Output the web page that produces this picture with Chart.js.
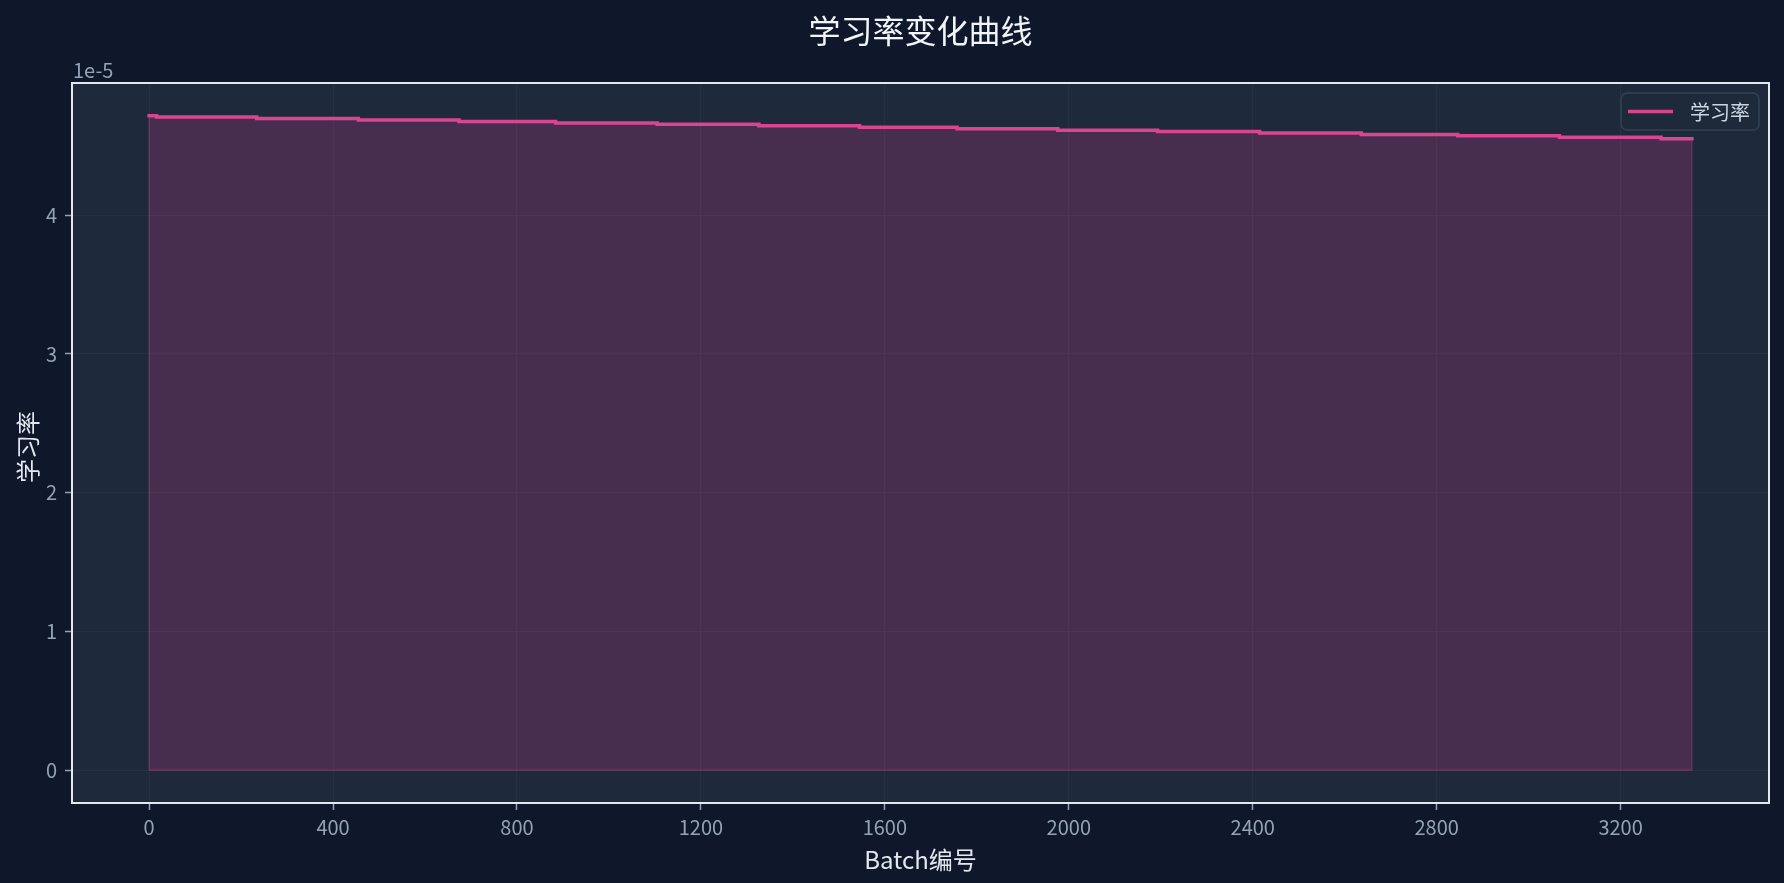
<!DOCTYPE html>
<html>
<head>
<meta charset="utf-8">
<script src="https://cdn.jsdelivr.net/npm/chart.js@4.4.1/dist/chart.umd.min.js"></script>
<style>
  html, body { margin: 0; padding: 0; background: #0f172a; }
  canvas { display: block; }
</style>
</head>
<body>
<canvas id="c" width="1784" height="883"></canvas>
<script>
// ---- Data ----
const chartTitle = '学习率变化曲线';
const xAxisTitle = 'Batch编号';
const yAxisTitle = '学习率';
const seriesLabel = '学习率';
const offsetText = '1e-5';
// batch index where each learning-rate level begins
const stepStartBatches = [0, 16, 234, 455, 674, 884, 1105, 1326, 1545, 1757, 1976, 2193, 2415, 2636, 2846, 3067, 3288];
// learning-rate level for each step
const learningRates = [4.717e-5, 4.707e-5, 4.697e-5, 4.686e-5, 4.676e-5, 4.665e-5, 4.655e-5, 4.645e-5, 4.634e-5,
                       4.624e-5, 4.613e-5, 4.603e-5, 4.593e-5, 4.582e-5, 4.572e-5, 4.561e-5, 4.551e-5];
const lastBatch = 3355;
const xTickValues = [0, 400, 800, 1200, 1600, 2000, 2400, 2800, 3200];
const yTickValues = [0, 1e-5, 2e-5, 3e-5, 4e-5];

// ---- Build points from the arrays ----
const points = stepStartBatches.map((b, i) => ({ x: b, y: learningRates[i] }));
points.push({ x: lastBatch, y: learningRates[learningRates.length - 1] });

const xFirst = stepStartBatches[0];
const xSpan = lastBatch - xFirst;
const yMaxData = Math.max(...learningRates);
const FONT = '"Noto Sans CJK SC", "Noto Sans", sans-serif';

const decor = {
  id: 'decor',
  beforeDraw(chart) {
    const { ctx, chartArea: a } = chart;
    ctx.save();
    ctx.fillStyle = '#0f172a';
    ctx.fillRect(0, 0, chart.width, chart.height);
    ctx.fillStyle = '#1e293b';
    ctx.fillRect(a.left, a.top, a.right - a.left, a.bottom - a.top);
    ctx.restore();
  },
  beforeDatasetsDraw(chart) {
    // faint edge of the filled area (left, bottom, right)
    const { ctx } = chart;
    const xs = chart.scales.x, ys = chart.scales.y;
    const x0 = xs.getPixelForValue(xFirst), x1 = xs.getPixelForValue(lastBatch);
    const y0 = ys.getPixelForValue(0);
    const yl = ys.getPixelForValue(learningRates[0]);
    const yr = ys.getPixelForValue(learningRates[learningRates.length - 1]);
    ctx.save();
    ctx.strokeStyle = 'rgba(236,72,153,0.3)';
    ctx.lineWidth = 1.3;
    ctx.beginPath();
    ctx.moveTo(x0, yl); ctx.lineTo(x0, y0); ctx.lineTo(x1, y0); ctx.lineTo(x1, yr);
    ctx.stroke();
    ctx.restore();
  },
  afterDraw(chart) {
    const { ctx, chartArea: a } = chart;
    ctx.save();
    // frame
    ctx.strokeStyle = '#e2e8f0';
    ctx.lineWidth = 2;
    ctx.strokeRect(a.left, a.top, a.right - a.left, a.bottom - a.top);

    const cx = (a.left + a.right) / 2;
    const cy = (a.top + a.bottom) / 2;
    // title
    ctx.fillStyle = '#f1f5f9';
    ctx.font = '32px ' + FONT;
    ctx.textAlign = 'center';
    ctx.textBaseline = 'middle';
    ctx.fillText(chartTitle, cx, 31);
    // x title
    ctx.fillStyle = '#e2e8f0';
    ctx.font = '24px ' + FONT;
    ctx.fillText(xAxisTitle, cx, 860);
    // y title
    ctx.save();
    ctx.translate(28, cy + 4);
    ctx.rotate(-Math.PI / 2);
    ctx.fillText(yAxisTitle, 0, 0);
    ctx.restore();
    // offset text
    ctx.fillStyle = '#94a3b8';
    ctx.font = '20px ' + FONT;
    ctx.textAlign = 'left';
    ctx.fillText(offsetText, a.left + 1, 70);

    // legend
    const lx = a.right - 148, ly = a.top + 10, lw = 138, lh = 37;
    ctx.beginPath();
    ctx.roundRect(lx, ly, lw, lh, 6);
    ctx.fillStyle = 'rgba(30,41,59,0.85)';
    ctx.fill();
    ctx.strokeStyle = '#334155';
    ctx.lineWidth = 1.5;
    ctx.stroke();
    const ds = chart.data.datasets[0];
    ctx.strokeStyle = ds.borderColor;
    ctx.lineWidth = 3.5;
    ctx.beginPath();
    ctx.moveTo(lx + 7, ly + lh / 2);
    ctx.lineTo(lx + 52, ly + lh / 2);
    ctx.stroke();
    ctx.fillStyle = '#cbd5e1';
    ctx.font = '20px ' + FONT;
    ctx.textAlign = 'left';
    ctx.textBaseline = 'middle';
    ctx.fillText(ds.label, lx + 69, ly + lh / 2 + 1);
    ctx.restore();
  }
};

function build() {
  new Chart(document.getElementById('c'), {
    type: 'line',
    data: {
      datasets: [{
        label: seriesLabel,
        data: points,
        stepped: true,
        borderColor: 'rgba(236,72,153,0.9)',
        backgroundColor: 'rgba(236,72,153,0.2)',
        borderWidth: 3.5,
        borderCapStyle: 'square',
        pointRadius: 0,
        fill: 'origin',
        tension: 0
      }]
    },
    options: {
      responsive: false,
      devicePixelRatio: 1,
      animation: false,
      layout: { padding: { left: 0, right: 15, top: 83, bottom: 0 } },
      plugins: { legend: { display: false }, title: { display: false }, tooltip: { enabled: false } },
      scales: {
        x: {
          type: 'linear',
          min: xFirst - 0.05 * xSpan,
          max: lastBatch + 0.05 * xSpan,
          afterFit(s) { s.height = 80; },
          afterBuildTicks(s) { s.ticks = xTickValues.map(v => ({ value: v })); },
          border: { display: false },
          grid: { color: 'rgba(148,163,184,0.06)', lineWidth: 1, tickColor: '#94a3b8', tickLength: 7, tickWidth: 1.5 },
          ticks: { color: '#94a3b8', font: { family: FONT, size: 20 }, padding: 5, maxRotation: 0,
                   callback: v => String(v) }
        },
        y: {
          type: 'linear',
          min: -0.05 * yMaxData,
          max: 1.05 * yMaxData,
          afterFit(s) { s.width = 72; },
          afterBuildTicks(s) { s.ticks = yTickValues.map(v => ({ value: v })); },
          border: { display: false },
          grid: { color: 'rgba(148,163,184,0.06)', lineWidth: 1, tickColor: '#94a3b8', tickLength: 7, tickWidth: 1.5 },
          ticks: { color: '#94a3b8', font: { family: FONT, size: 20 }, padding: 8,
                   callback: v => String(Math.round(v / 1e-5)) }
        }
      }
    },
    plugins: [decor]
  });
}

Promise.all([
  document.fonts.load('20px "Noto Sans CJK SC"', '学习率0123456789'),
  document.fonts.load('32px "Noto Sans CJK SC"', chartTitle)
]).then(build, build);
</script>
</body>
</html>
